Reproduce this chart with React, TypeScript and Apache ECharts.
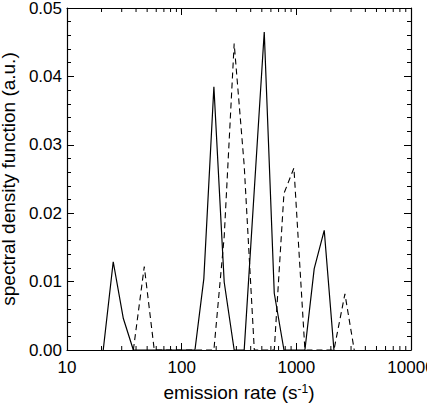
import React, { useEffect, useRef } from "react";
import * as echarts from "echarts";

// emission rate (s^-1) and spectral density values
const solidRates = [20.7, 25.3, 31.0, 37.9, 130.6, 156, 191, 235, 287, 351, 525, 642, 780, 1188, 1432, 1751, 2128];
const solidValues = [0, 0.0129, 0.0046, 0, 0, 0.0104, 0.0385, 0.0099, 0, 0, 0.0465, 0.0083, 0, 0, 0.0119, 0.0175, 0];
const dashedRates = [37.9, 47.2, 57.7, 191, 235, 287, 351, 430, 642, 780, 953, 1188, 2128, 2653, 3199];
const dashedValues = [0, 0.0122, 0, 0, 0.0166, 0.0448, 0.027, 0, 0, 0.0229, 0.0266, 0, 0, 0.0082, 0];
const xMin = 10;
const xMax = 10000;
const yMin = 0;
const yMax = 0.05;
const yStep = 0.01;
// log-axis minor tick positions (2..9 in each decade)
const xMinorTicks = [
  20, 30, 40, 50, 60, 70, 80, 90,
  200, 300, 400, 500, 600, 700, 800, 900,
  2000, 3000, 4000, 5000, 6000, 7000, 8000, 9000,
];

const FONT = "'Liberation Sans', Arial, Helvetica, sans-serif";

export default function App() {
  const ref = useRef<HTMLDivElement>(null);
  useEffect(() => {
    if (!ref.current) return;
    const chart = echarts.init(ref.current, undefined, { renderer: "svg" });
    const axisLine = { show: true, onZero: false, lineStyle: { color: "#000", width: 1.2 } };
    const tick = { show: true, inside: true, length: 7, lineStyle: { color: "#000", width: 1 } };
    const xCommon = {
      type: "log" as const,
      logBase: 10,
      min: xMin,
      max: xMax,
      axisLine,
      axisTick: tick,
      minorTick: { show: false },
      splitLine: { show: false },
      minorSplitLine: { show: false },
    };
    const yCommon = {
      type: "value" as const,
      min: yMin,
      max: yMax,
      interval: yStep,
      axisLine,
      axisTick: tick,
      minorTick: { show: true, splitNumber: 5, length: 4, lineStyle: { color: "#000", width: 1 } },
      splitLine: { show: false },
      minorSplitLine: { show: false },
    };
    chart.setOption({
      animation: false,
      backgroundColor: "#fff",
      grid: {
        left: 67,
        right: 16,
        top: 8,
        bottom: 59,
        containLabel: false,
        outerBoundsMode: "none",
      },
      xAxis: [
        {
          ...xCommon,
          position: "bottom",
          axisLabel: {
            show: true,
            color: "#000",
            fontSize: 17,
            fontFamily: FONT,
            margin: 9,
            hideOverlap: false,
            showMaxLabel: true,
            showMinLabel: true,
            formatter: (v: number) => String(Math.round(v)),
          },
          name: "emission rate (s{sup|-1})",
          nameLocation: "middle",
          nameGap: 33,
          nameTextStyle: {
            color: "#000",
            fontSize: 19,
            fontFamily: FONT,
            rich: {
              sup: { fontSize: 12, fontFamily: FONT, color: "#000", verticalAlign: "top", lineHeight: 12 },
            },
          },
        },
        { ...xCommon, position: "top", axisLabel: { show: false } },
      ],
      yAxis: [
        {
          ...yCommon,
          position: "left",
          axisLabel: {
            show: true,
            color: "#000",
            fontSize: 17,
            fontFamily: FONT,
            margin: 5,
            formatter: (v: number) => v.toFixed(2),
          },
          name: "spectral density function (a.u.)",
          nameLocation: "middle",
          nameGap: 42,
          nameRotate: 90,
          nameTextStyle: { color: "#000", fontSize: 19, fontFamily: FONT },
        },
        { ...yCommon, position: "right", axisLabel: { show: false } },
      ],
      series: [
        {
          type: "custom",
          silent: true,
          clip: false,
          data: xMinorTicks.map((v) => [v]),
          renderItem: (_params: any, api: any) => {
            const v = api.value(0);
            const b = api.coord([v, yMin]);
            const t = api.coord([v, yMax]);
            const style = { stroke: "#000", lineWidth: 1 };
            return {
              type: "group",
              children: [
                { type: "line", shape: { x1: b[0], y1: b[1], x2: b[0], y2: b[1] - 4 }, style },
                { type: "line", shape: { x1: t[0], y1: t[1], x2: t[0], y2: t[1] + 4 }, style },
              ],
            };
          },
          z: 1,
        },
        {
          type: "line",
          data: solidRates.map((r, i) => [r, solidValues[i]]),
          showSymbol: false,
          symbol: "none",
          lineStyle: { color: "#000", width: 1.2, type: "solid" },
          clip: true,
          z: 3,
        },
        {
          type: "line",
          data: dashedRates.map((r, i) => [r, dashedValues[i]]),
          showSymbol: false,
          symbol: "none",
          lineStyle: { color: "#000", width: 1.1, type: [6, 4] },
          clip: true,
          z: 3,
        },
      ],
    });
    return () => chart.dispose();
  }, []);
  return (
    <div
      ref={ref}
      style={{ position: "fixed", left: 0, top: 0, width: 427, height: 409, background: "#fff" }}
    />
  );
}
